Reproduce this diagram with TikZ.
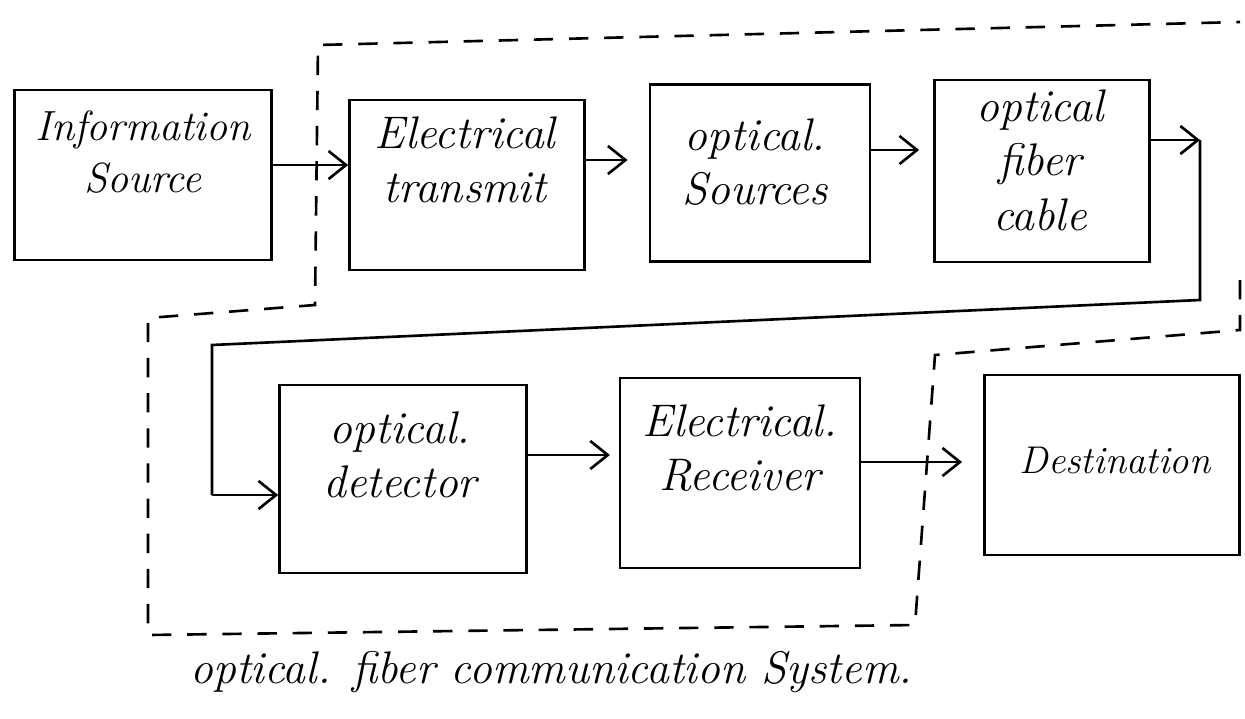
\documentclass[tikz,border=0pt]{standalone}
\usetikzlibrary{arrows.meta,calc}
\begin{document}
\begin{tikzpicture}[x=0.02cm,y=-0.02cm,
  box/.style={draw, line width=1.5pt, inner sep=0pt},
  lbl/.style={font=\fontsize{26}{31}\selectfont\itshape, align=center, inner sep=0pt},
  arr/.style={line width=1.5pt, -{Straight Barb[length=10pt,width=16pt,line width=1.5pt]}},
  wire/.style={line width=1.5pt},
  bound/.style={line width=1.5pt, dash pattern=on 11pt off 9pt}]
\useasboundingbox (0,0) rectangle (1245,718);
% boxes
\node[box, minimum width=257*0.02cm, minimum height=170*0.02cm] (is) at (143,175) {};
\node[box, minimum width=235*0.02cm, minimum height=170*0.02cm] (et) at (467,185) {};
\node[box, minimum width=220*0.02cm, minimum height=177*0.02cm] (os) at (760,173) {};
\node[box, minimum width=215*0.02cm, minimum height=182*0.02cm] (fc) at (1042,171) {};
\node[box, minimum width=247*0.02cm, minimum height=188*0.02cm] (od) at (403,479) {};
\node[box, minimum width=240*0.02cm, minimum height=190*0.02cm] (er) at (740,473) {};
\node[box, minimum width=255*0.02cm, minimum height=180*0.02cm] (de) at (1112,465) {};
% labels
\node[lbl, font=\fontsize{24}{30}\selectfont\itshape] (tis) at (143,152) {Information\\Source};
\node[lbl] (tet) at (465,160) {Electrical\\transmit};
\node[lbl] (tos) at (755,162) {optical.\\Sources};
\node[lbl] (tfc) at (1040,160) {optical\\fiber\\cable};
\node[lbl] (tod) at (400,455) {optical.\\detector};
\node[lbl] (ter) at (740,448) {Electrical.\\Receiver};
\node[lbl, font=\fontsize{22}{27}\selectfont\itshape] (tde) at (1115,460) {Destination};
\node[lbl, anchor=west] (cap) at (190,672) {optical. fiber communication System.};
% connectors
\coordinate (c1) at (1200,140);
\coordinate (c2) at (1200,300);
\coordinate (c3) at (212,345);
\coordinate (c4) at (212,495);
\draw[arr] (is.east |- 0,165) -- (et.west |- 0,165);
\draw[arr, shorten >=12pt] (et.east |- 0,160) -- (os.west |- 0,160);
\draw[arr, shorten >=8pt] (os.east |- 0,150) -- (fc.west |- 0,150);
\draw[arr] (fc.east |- 0,140) -- (c1);
\draw[wire] (c1) -- (c2) -- (c3) -- (c4);
\draw[arr] (c4) -- (od.west |- c4);
\draw[arr, shorten >=5pt] (od.east |- 0,455) -- (er.west |- 0,455);
\draw[arr, shorten >=12pt] (er.east |- 0,462) -- (de.west |- 0,462);
% dashed boundary
\coordinate (b1) at (1240,280);
\coordinate (b2) at (1240,330);
\coordinate (b3) at (935,355);
\coordinate (b4) at (915,625);
\coordinate (b5) at (148,635);
\coordinate (b6) at (148,318);
\coordinate (b7) at (315,305);
\coordinate (b8) at (318,45);
\coordinate (b9) at (1240,22);
\draw[bound] (b1) -- (b2) -- (b3) -- (b4) -- (b5) -- (b6) -- (b7) -- (b8) -- (b9);
\end{tikzpicture}
\end{document}
